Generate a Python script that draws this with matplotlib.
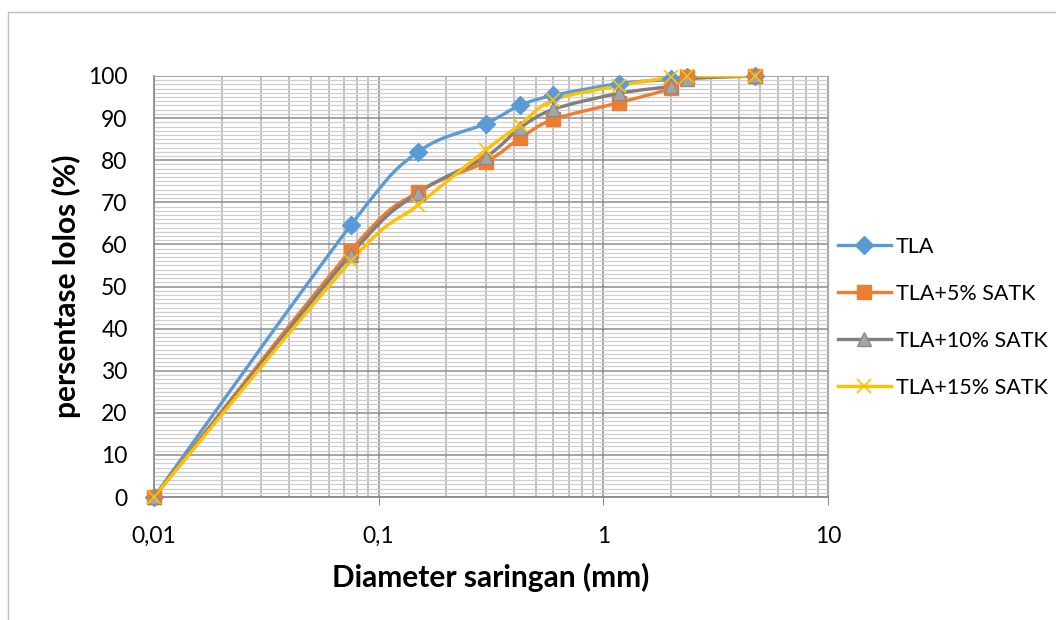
import numpy as np
import matplotlib
matplotlib.use("Agg")
import matplotlib.pyplot as plt
from matplotlib.path import Path
from matplotlib.patches import PathPatch
from matplotlib.lines import Line2D
from matplotlib.ticker import LogLocator, MultipleLocator, NullFormatter

# ---- data ----
sieve_mm = [0.01, 0.075, 0.15, 0.3, 0.425, 0.6, 1.18, 2.0, 2.36, 4.75]
tla = [0, 64.5, 82.0, 88.7, 93.0, 95.4, 98.2, 99.2, 99.7, 100]
tla_5 = [0, 58.5, 72.5, 79.6, 85.2, 89.7, 93.7, 97.1, 99.8, 100]
tla_10 = [0, 57.5, 72.2, 80.8, 87.6, 92.1, 95.9, 97.6, 99.3, 100]
tla_15 = [0, 56.0, 69.4, 82.4, 88.4, 94.3, 97.7, 99.7, 100, 100]
series_names = ["TLA", "TLA+5% SATK", "TLA+10% SATK", "TLA+15% SATK"]
x_ticks = [0.01, 0.1, 1, 10]
x_ticklabels = ["0,01", "0,1", "1", "10"]
y_ticks = list(range(0, 101, 10))

plt.rcParams['font.family'] = ['Lato', 'DejaVu Sans']

W, H = 1056, 620
fig = plt.figure(figsize=(W / 100, H / 100), dpi=100)
fig.patch.set_facecolor("white")
# chart frame (top and left edges visible)
fig.add_artist(Line2D([8 / W, 8 / W, 1.0], [0.0, 1 - 12 / H, 1 - 12 / H],
                      transform=fig.transFigure, color="#bfbfbf", linewidth=1))

ax = fig.add_axes([154 / W, 1 - 497 / H, (828 - 154) / W, (497 - 76) / H])
ax.set_xscale("log")
ax.set_xlim(0.01, 10)
ax.set_ylim(0, 100)
ax.xaxis.set_major_locator(LogLocator(base=10))
ax.xaxis.set_minor_locator(LogLocator(base=10, subs=np.arange(2, 10)))
ax.xaxis.set_minor_formatter(NullFormatter())
ax.set_xticks(x_ticks)
ax.set_xticklabels(x_ticklabels)
ax.set_yticks(y_ticks)
ax.yaxis.set_minor_locator(MultipleLocator(1))

ax.grid(which="minor", axis="y", color="#cfcfcf", linewidth=0.9)
ax.grid(which="minor", axis="x", color="#bdbdbd", linewidth=1.3)
ax.grid(which="major", axis="both", color="#8c8c8c", linewidth=1.1)
ax.set_axisbelow(True)

for s in ["top", "right"]:
    ax.spines[s].set_color("#a6a6a6")
for s in ["left", "bottom"]:
    ax.spines[s].set_color("#8c8c8c")
    ax.spines[s].set_linewidth(1.3)
ax.tick_params(axis="x", which="major", length=6, color="#8c8c8c", labelsize=16.5, pad=15)
ax.tick_params(axis="x", which="minor", length=0)
ax.tick_params(axis="y", which="both", length=0, labelsize=16.5, pad=19)

ax.set_xlabel("Diameter saringan (mm)", fontsize=21.5, fontweight="bold", labelpad=11)
ax.set_ylabel("persentase lolos (%)", fontsize=21.5, fontweight="bold", labelpad=5)


def smooth_patch(x, y, color, lw):
    lx = np.log10(np.asarray(x, float))
    pts = np.column_stack([lx, np.asarray(y, float)])
    n = len(pts)
    verts = [pts[0]]
    codes = [Path.MOVETO]
    for i in range(n - 1):
        p0 = pts[max(i - 1, 0)]
        p1 = pts[i]
        p2 = pts[i + 1]
        p3 = pts[min(i + 2, n - 1)]
        c1 = p1 + (p2 - p0) / 6.0
        c2 = p2 - (p3 - p1) / 6.0
        verts += [c1, c2, p2]
        codes += [Path.CURVE4] * 3
    verts = np.array(verts)
    verts[:, 0] = 10 ** verts[:, 0]
    patch = PathPatch(Path(verts, codes), fill=False, edgecolor=color,
                      linewidth=lw, capstyle="round", joinstyle="round",
                      transform=ax.transData, zorder=3)
    ax.add_patch(patch)


styles = [
    dict(color="#5B9BD5", marker="D", ms=9, mfc="#5B9BD5", mec="#5B9BD5", mew=1),
    dict(color="#ED7D31", marker="s", ms=9.5, mfc="#ED7D31", mec="#ED7D31", mew=1),
    dict(color="#7f7f7f", marker="^", ms=10.5, mfc="#A5A5A5", mec="#8a8a8a", mew=1),
    dict(color="#FFC000", marker="x", ms=10, mfc="#FFC000", mec="#FFC000", mew=1.2),
]
all_series = [tla, tla_5, tla_10, tla_15]
handles = []
for name, ys, st in zip(series_names, all_series, styles):
    smooth_patch(sieve_mm, ys, st["color"], 2.4)
    ax.plot(sieve_mm, ys, linestyle="none", marker=st["marker"], ms=st["ms"],
            mfc=st["mfc"], mec=st["mec"], mew=st["mew"], zorder=4, clip_on=False)
    handles.append(Line2D([], [], color=st["color"], lw=2.4, marker=st["marker"],
                          ms=st["ms"], mfc=st["mfc"], mec=st["mec"], mew=st["mew"]))

fig.legend(handles, series_names, loc="upper left",
           bbox_to_anchor=(838 / W, 1 - 237 / H), frameon=False,
           fontsize=15.5, handlelength=2.45, handletextpad=0.25,
           labelspacing=1.25, borderaxespad=0, borderpad=0)

fig.savefig("out.png", dpi=100)
